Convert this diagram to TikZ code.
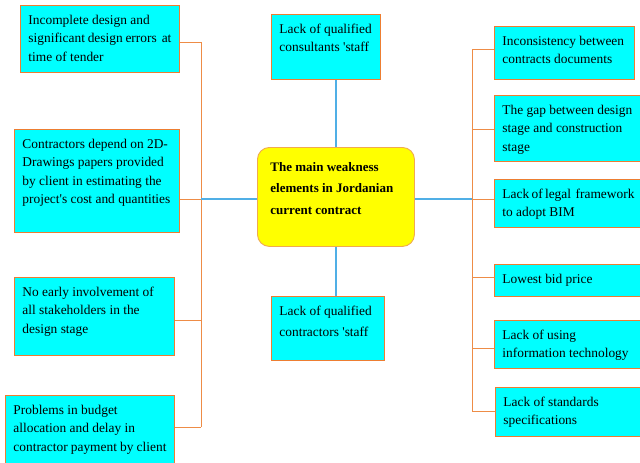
\documentclass[tikz,border=0pt]{standalone}
\usepackage{fontspec}
\setmainfont{Liberation Serif}

\definecolor{boxfill}{RGB}{0,255,255}
\definecolor{boxline}{RGB}{237,125,49}
\definecolor{twigline}{RGB}{238,140,70}
\definecolor{stemline}{RGB}{80,175,230}
\definecolor{corefill}{RGB}{255,255,0}
\definecolor{coreline}{RGB}{240,170,80}

\def\boxtext#1#2#3{\parbox[c][\dimexpr#2pt-12pt\relax][t]{\dimexpr#1pt-16pt\relax}{\strut#3}}

\begin{document}
\begin{tikzpicture}[x=1pt, y=-1pt,
    font=\fontsize{13.4}{18.5}\selectfont,
    cell/.style={draw=boxline, fill=boxfill, line width=0.9pt, anchor=north west,
        inner xsep=8pt, inner ysep=6pt},
    core/.style={draw=coreline, fill=corefill, line width=0.9pt, anchor=north west,
        rounded corners=12pt, inner xsep=13pt, inner ysep=0pt},
    twig/.style={draw=twigline, line width=0.9pt},
    stem/.style={draw=stemline, line width=1.1pt}]
    \useasboundingbox (0,0) rectangle (640,463);

    \node [core] (C) at (257,147) {\parbox[c][99pt][t]{131pt}{\bfseries\fontsize{13}{21.5}\selectfont
        \rule{0pt}{24pt}The main weakness\\ elements in Jordanian\\ current contract}};

    \node [cell] (T) at (271,14) {\boxtext{109}{65}{Lack of qualified\\ consultants \textquotesingle staff}};
    \node [cell] (B) at (271,296) {\boxtext{113}{64}{Lack of qualified\\[3pt] contractors \textquotesingle staff}};

    \node [cell] (L1) at (20,5) {\boxtext{159}{67}{Incomplete design and\\ significant design errors\, at\\ time of tender}};
    \node [cell] (L2) at (14,129) {\boxtext{165}{103}{Contractors depend on 2D-\\ Drawings papers provided\\ by client in estimating the\\ project\textquotesingle s cost and quantities}};
    \node [cell] (L3) at (14,277) {\boxtext{160}{78}{No early involvement of\\ all stakeholders in the\\ design stage}};
    \node [cell] (L4) at (5,395) {\boxtext{169}{70}{Problems in budget\\ allocation and delay in\\ contractor payment by client}};

    \node [cell] (R1) at (494,26) {\boxtext{140}{53}{Inconsistency between\\ contracts documents}};
    \node [cell] (R2) at (494,95) {\boxtext{148}{66}{The gap between design\\ stage and construction\\ stage}};
    \node [cell] (R3) at (494,179) {\boxtext{148}{48}{Lack of legal\, framework\\ to adopt BIM}};
    \node [cell] (R4) at (494,264) {\boxtext{148}{32}{Lowest bid price}};
    \node [cell] (R5) at (494,320) {\boxtext{148}{48}{Lack of using\\ information technology}};
    \node [cell] (R6) at (495,387) {\boxtext{147}{49}{Lack of standards\\ specifications}};

    \foreach \n/\y in {1/42,2/199,3/320,4/427} {
        \coordinate (l\n) at (201,\y);
        \draw [twig] (L\n.east |- l\n) -- (l\n);
    }
    \draw [twig] (l1) -- (l4);

    \foreach \n/\y in {1/49,2/129,3/199,4/277,5/348,6/411} {
        \coordinate (r\n) at (472,\y);
        \draw [twig] (r\n) -- (R\n.west |- r\n);
    }
    \draw [twig] (r1) -- (r6);

    \draw [stem] (l2) -- (C.west |- l2);
    \draw [stem] (C.east |- r3) -- (r3);
    \draw [stem] (C.north) -- (C.north |- T.south);
    \draw [stem] (C.south) -- (C.south |- B.north);
\end{tikzpicture}
\end{document}
